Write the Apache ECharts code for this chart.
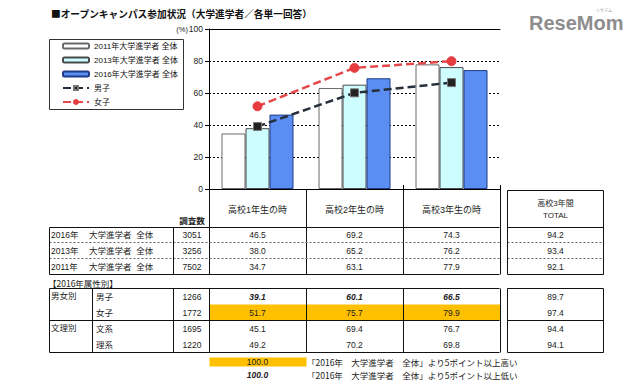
<!DOCTYPE html>
<html><head><meta charset="utf-8">
<script src="https://cdn.jsdelivr.net/npm/echarts@6/dist/echarts.min.js"></script>
<style>html,body{margin:0;padding:0;background:#fff;}#c{width:640px;height:386px;}</style>
</head><body><div id="c"></div>
<script>
// ---- data ----
const categories = ['高校1年生の時', '高校2年生の時', '高校3年生の時'];
const yTicks = [0, 20, 40, 60, 80, 100];
const seriesNames = ['2011年大学進学者 全体', '2013年大学進学者 全体', '2016年大学進学者 全体', '男子', '女子'];
const all2011 = [34.7, 63.1, 77.9];
const all2013 = [38.0, 65.2, 76.2];
const all2016 = [46.5, 69.2, 74.3];
const male2016 = [39.1, 60.1, 66.5];
const female2016 = [51.7, 75.7, 79.9];
const humanities2016 = [45.1, 69.4, 76.7];
const sciences2016 = [49.2, 70.2, 69.8];
const totalLabels = ['高校3年間', 'TOTAL'];
const rowLabels1 = [['2016年', '大学進学者  全体'], ['2013年', '大学進学者  全体'], ['2011年', '大学進学者  全体']];
const counts1 = [3051, 3256, 7502];
const totals1 = [94.2, 93.4, 92.1];
const groupLabels = ['男女別', '文理別'];
const rowLabels2 = ['男子', '女子', '文系', '理系'];
const counts2 = [1266, 1772, 1695, 1220];
const totals2 = [89.7, 97.4, 94.4, 94.1];
const noteHigh = '「2016年　大学進学者　全体」より5ポイント以上高い';
const noteLow = '「2016年　大学進学者　全体」より5ポイント以上低い';

const FONT = '"Liberation Sans", "Noto Sans CJK JP", sans-serif';
const CJK = 'Noto Sans CJK JP';
const chart = echarts.init(document.getElementById('c'), null, {renderer: 'svg'});

const option = {
  animation: false,
  backgroundColor: '#fff',
  textStyle: {fontFamily: FONT},
  grid: {left: 209, top: 29, width: 291, height: 160, containLabel: false},
  legend: {
    left: 62, top: 40, orient: 'vertical', itemWidth: 26, itemHeight: 5, itemGap: 2,
    padding: 0,
    textStyle: {fontSize: 8, color: '#111', fontFamily: FONT, lineHeight: 12},
    data: seriesNames
  },
  xAxis: [{
    type: 'category', data: categories, boundaryGap: true,
    axisLine: {show: true, lineStyle: {color: '#000', width: 1}},
    axisTick: {show: true, inside: true, length: 4, lineStyle: {color: '#000'}},
    axisLabel: {show: false}, splitLine: {show: false}
  }, {
    type: 'category', data: categories, position: 'top',
    axisLine: {show: true, lineStyle: {color: '#000', width: 1}},
    axisTick: {show: false}, axisLabel: {show: false}
  }],
  yAxis: {
    type: 'value', min: yTicks[0], max: yTicks[yTicks.length - 1], interval: 20,
    axisLine: {show: true, lineStyle: {color: '#000'}},
    axisTick: {show: true, length: 4, lineStyle: {color: '#000'}},
    axisLabel: {fontSize: 8.5, color: '#222', margin: 6, fontFamily: FONT},
    splitLine: {show: true, lineStyle: {color: '#000', type: [2, 2], width: 1}}
  },
  series: [
    {name: seriesNames[0], type: 'bar', data: all2011, barWidth: 24, barGap: '0%',
     itemStyle: {color: '#ffffff', borderColor: '#6a6a6a', borderWidth: 1}},
    {name: seriesNames[1], type: 'bar', data: all2013, barWidth: 24, barGap: '0%',
     itemStyle: {color: '#cdfdff', borderColor: '#4a4a4a', borderWidth: 1}},
    {name: seriesNames[2], type: 'bar', data: all2016, barWidth: 24, barGap: '0%',
     itemStyle: {color: '#5b8ef2', borderColor: '#1f3a86', borderWidth: 1}},
    {name: seriesNames[3], type: 'line', data: male2016, z: 5,
     symbol: 'rect', symbolSize: 8,
     lineStyle: {color: '#25303c', width: 2.5, type: [8, 4]},
     itemStyle: {color: '#222', borderColor: '#777', borderWidth: 1}},
    {name: seriesNames[4], type: 'line', data: female2016, z: 5,
     symbol: 'circle', symbolSize: 9,
     lineStyle: {color: '#e5484a', width: 2.5, type: [8, 4]},
     itemStyle: {color: '#e63c3f', borderColor: '#e63c3f', borderWidth: 1}}
  ]
};
chart.setOption(option);

// ---- table / annotation graphics ----
const colX = categories.map((c, i) => chart.convertToPixel({xAxisIndex: 0}, i));
const g = [];
const LINE = '#111';
function hl(x1, x2, y, dash, color) {
  g.push({type: 'line', silent: true, shape: {x1: x1, y1: y, x2: x2, y2: y},
    style: {stroke: color || LINE, lineWidth: 1, lineDash: dash || null}});
}
function vl(x, y1, y2) {
  g.push({type: 'line', silent: true, shape: {x1: x, y1: y1, x2: x, y2: y2},
    style: {stroke: LINE, lineWidth: 1}});
}
function rc(x, y, w, h, fill) {
  g.push({type: 'rect', silent: true, shape: {x: x, y: y, width: w, height: h},
    style: {fill: fill, stroke: null}});
}
function tx(s, x, y, align, o) {
  o = o || {};
  g.push({type: 'text', silent: true, z: 10, style: {
    text: String(s), x: x, y: y, textAlign: align || 'center', textVerticalAlign: 'middle',
    fontSize: o.size || 8.5, fontFamily: o.family || FONT,
    fontWeight: o.weight || 'normal', fontStyle: o.style || 'normal',
    fill: o.color || '#222'}});
}
const f1 = v => v.toFixed(1);

// title
tx('■オープンキャンパス参加状況（大学進学者／各単一回答）', 51, 14, 'left', {size: 9.7, weight: 'bold', color: '#111', family: CJK});
// watermark
tx('ReseMom', 529, 23, 'left', {size: 20, weight: 'bold', family: 'Liberation Sans', color: '#8d8d8d'});
tx('リセマム', 604, 10, 'center', {size: 4, color: '#999', family: CJK});
// (%) label
tx('(%)', 188, 29, 'right', {size: 7.5});
// legend frame
g.push({type: 'rect', silent: true, shape: {x: 49.5, y: 39.5, width: 134, height: 70},
  style: {fill: null, stroke: '#333', lineWidth: 1}});

// --- table 1 ---
const L = 49.5, R = 499.5, C1 = 173.5, C2 = 209.5;
const bounds = [colX[0] - 48.5, colX[1] - 48.5, colX[2] - 48.5, colX[2] + 48.5].map(v => Math.round(v) + 0.5);
const T1 = [227.5, 242.5, 258.5, 274.5];
bounds.forEach(x => vl(x, 189, 274.5));
hl(L, R, T1[0]); hl(L, R, T1[3]);
hl(L, R, T1[1], [2, 2], '#666'); hl(L, R, T1[2], [2, 2], '#666');
vl(L, T1[0], T1[3]); vl(C1, T1[0], T1[3]);
categories.forEach((c, i) => tx(c, colX[i], 210, 'center', {size: 9}));
tx('調査数', 192, 220, 'center', {weight: 'bold', family: CJK});
const rows1 = [all2016, all2013, all2011];
rows1.forEach((arr, r) => {
  const y = (T1[r] + T1[r + 1]) / 2;
  tx(rowLabels1[r][0], 51, y, 'left');
  tx(rowLabels1[r][1], 89, y, 'left');
  tx(counts1[r], 192, y, 'center');
  arr.forEach((v, i) => tx(f1(v), colX[i], y, 'center'));
});
// TOTAL box
const TL = 507.5, TR = 603.5, TC = 555.5;
hl(TL, TR, 190.5); hl(TL, TR, T1[0]); hl(TL, TR, T1[3]);
hl(TL, TR, T1[1], [2, 2], '#666'); hl(TL, TR, T1[2], [2, 2], '#666');
vl(TL, 190.5, T1[3]); vl(TR, 190.5, T1[3]);
tx(totalLabels[0], TC, 203.5, 'center', {size: 8});
tx(totalLabels[1], TC, 215, 'center', {size: 8});
totals1.forEach((v, r) => tx(f1(v), TC, (T1[r] + T1[r + 1]) / 2, 'center'));

// --- table 2 ---
tx('【2016年属性別】', 48, 283, 'left', {family: CJK});
const T2 = [288.5, 304.5, 320.5, 336.5, 352.5];
const rows2 = [male2016, female2016, humanities2016, sciences2016];
rows2.forEach((arr, r) => arr.forEach((v, i) => {
  if (v - all2016[i] >= 5) rc(bounds[i], T2[r], bounds[i + 1] - bounds[i], T2[r + 1] - T2[r], '#ffc000');
}));
hl(L, R, T2[0]); hl(L, R, T2[2]); hl(L, R, T2[4]);
[L, 92.5, C1, C2].concat(bounds).forEach(x => vl(x, T2[0], T2[4]));
tx(groupLabels[0], 51, 296, 'left');
tx(groupLabels[1], 51, 328, 'left');
rows2.forEach((arr, r) => {
  const y = (T2[r] + T2[r + 1]) / 2;
  tx(rowLabels2[r], 96, y, 'left');
  tx(counts2[r], 192, y, 'center');
  arr.forEach((v, i) => {
    const low = all2016[i] - v >= 5;
    tx(f1(v), colX[i], y, 'center', low ? {style: 'italic', weight: 'bold'} : {});
  });
});
hl(TL, TR, T2[0]); hl(TL, TR, T2[2]); hl(TL, TR, T2[4]);
vl(TL, T2[0], T2[4]); vl(TR, T2[0], T2[4]);
totals2.forEach((v, r) => tx(f1(v), TC, (T2[r] + T2[r + 1]) / 2, 'center'));

// notes
rc(bounds[0], 357.5, bounds[1] - bounds[0], 9, '#ffc000');
tx(f1(100), colX[0], 362, 'center');
tx(f1(100), colX[0], 375, 'center', {style: 'italic', weight: 'bold'});
tx(noteHigh, 307, 362, 'left', {family: CJK});
tx(noteLow, 307, 375, 'left', {family: CJK});

chart.setOption({graphic: {elements: g}});
</script>
</body></html>
